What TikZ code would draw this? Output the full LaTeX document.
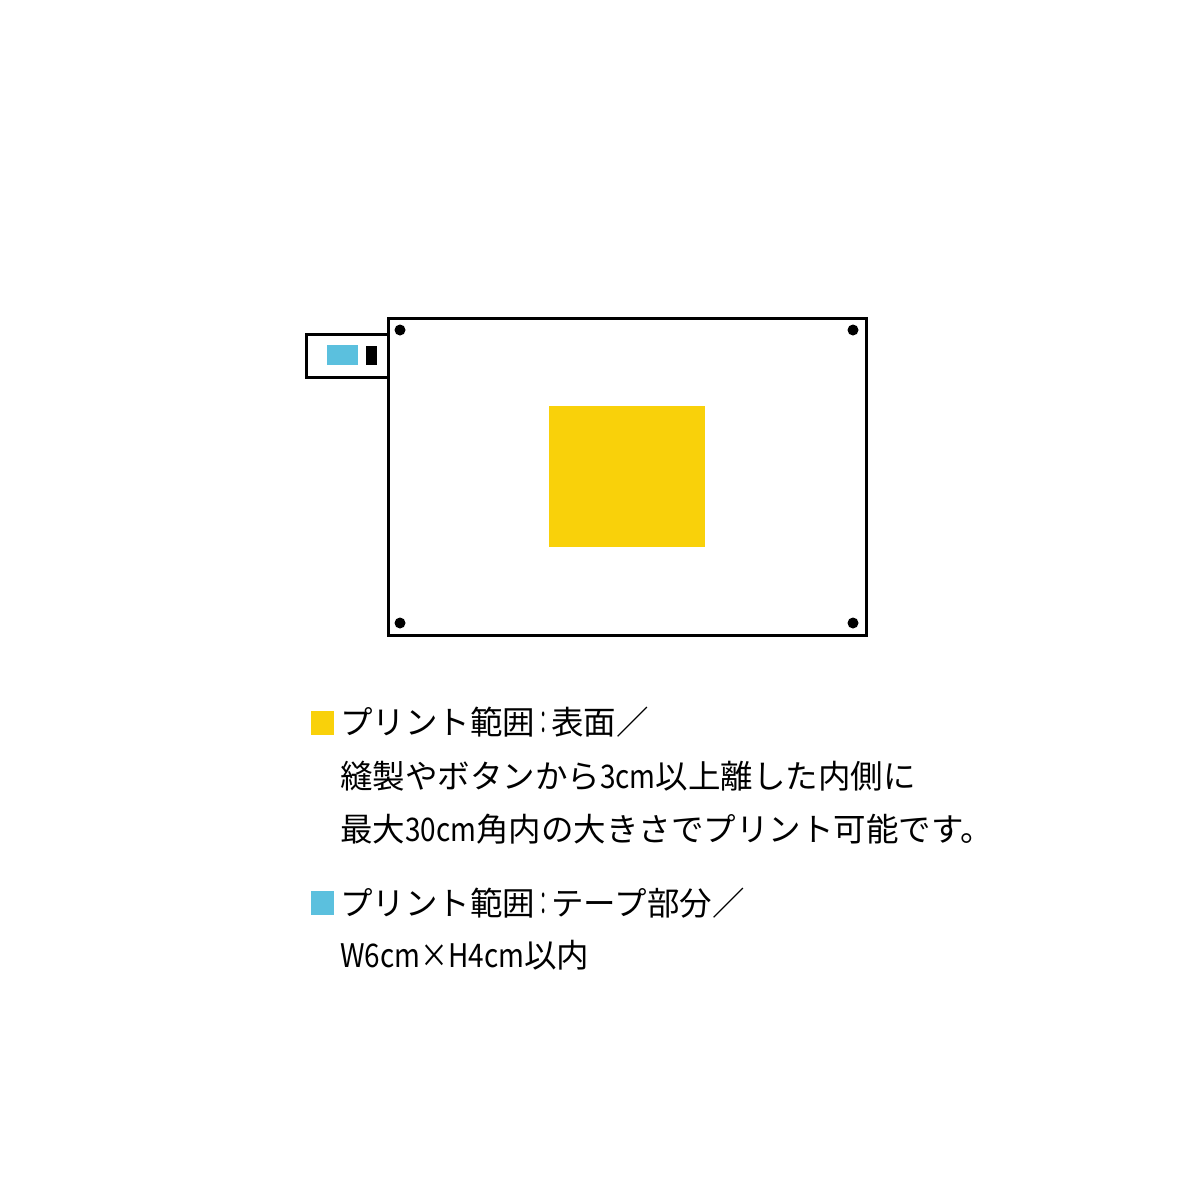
\documentclass[tikz,border=0pt]{standalone}
\usepackage{fontspec}
\newfontfamily\jp{Noto Sans CJK JP}
\newfontfamily\jpn[FakeStretch=0.86]{Noto Sans CJK JP}
\newfontfamily\jph[FakeStretch=0.5]{Noto Sans CJK JP}
\newcommand{\nw}[1]{{\jpn #1}}
\newcommand{\hw}[1]{{\jph #1}}
\definecolor{printyellow}{HTML}{F9D10A}
\definecolor{printblue}{HTML}{5BC0DE}
\begin{document}
\begin{tikzpicture}[x=1pt,y=-1pt,
  outline/.style={draw=black,line width=3pt},
  rivet/.style={circle,fill=black,inner sep=0pt,minimum size=11pt},
  label/.style={anchor=west,inner sep=0pt,font=\jp\fontsize{32.5}{32.5}\selectfont}]
\useasboundingbox[fill=white] (0,0) rectangle (1200,1200);
% tab
\draw[outline,fill=white] (388,334) -- (306,334) -- (306,377) -- (388,377);
\fill[printblue] (327,345) rectangle (358,365);
\fill[black] (366,346) rectangle (377,365);
% main body
\node[outline,minimum width=478pt,minimum height=317pt,inner sep=0pt] (body) at (627,476.5) {};
\node[rivet] (r1) at (400,330) {};
\node[rivet] (r2) at (853,330) {};
\node[rivet] (r3) at (400,623) {};
\node[rivet] (r4) at (853,623) {};
\fill[printyellow] (549,406) rectangle (705,547);
% legend
\fill[printyellow] (311,711) rectangle (334,735);
\node[label] (t1) at (340,722) {プリント範囲\hw{：}表面／};
\node[label] (t2) at (340,776) {縫製やボタンから\nw{3cm}以上離した内側に};
\node[label] (t3) at (340,829) {最大\nw{30cm}角内の大きさでプリント可能です。};
\fill[printblue] (311,891) rectangle (334,915);
\node[label] (t4) at (340,903) {プリント範囲\hw{：}テープ部分／};
\node[label] (t5) at (340,955) {\nw{W6cm×H4cm}以内};
\end{tikzpicture}
\end{document}
